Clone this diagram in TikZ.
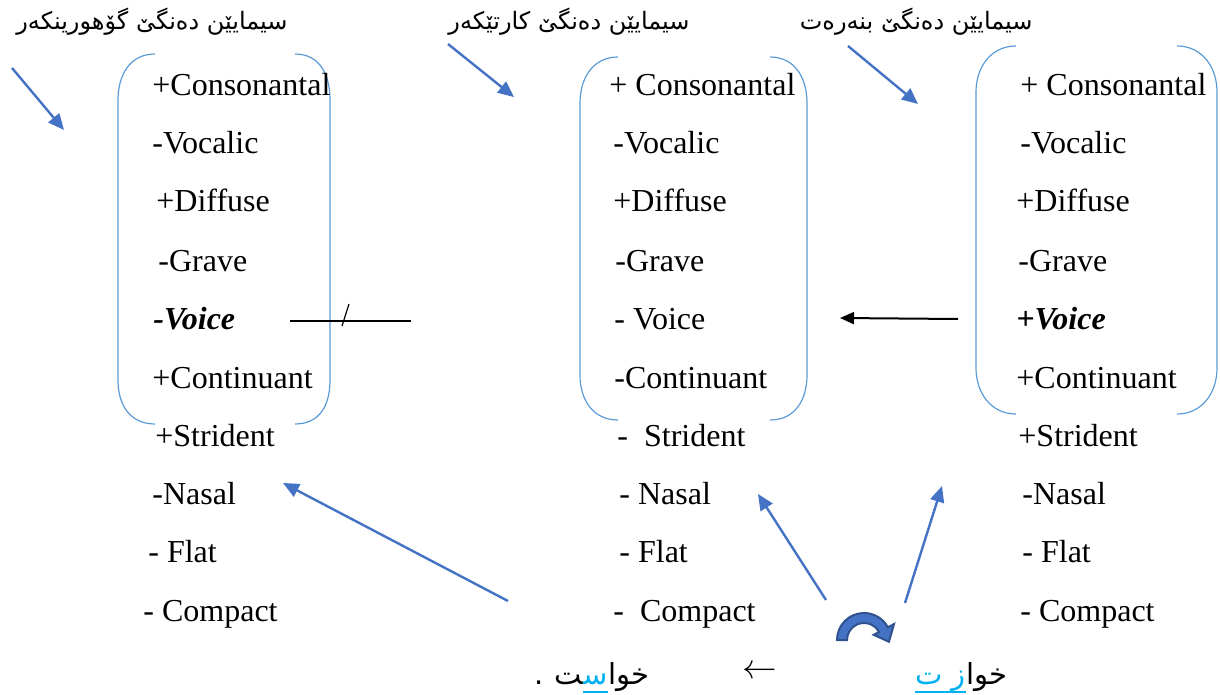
\documentclass[tikz,border=0pt]{standalone}
\usepackage{fontspec}
\setmainfont{Liberation Serif}
\newfontfamily\arabicfont[Script=Arabic]{DejaVu Sans}
\TeXXeTstate=1
\usetikzlibrary{arrows.meta}
\definecolor{brk}{HTML}{5B9BD5}
\definecolor{arr}{HTML}{4472C4}
\definecolor{arrdark}{HTML}{2F528F}
\definecolor{hl}{HTML}{00B0F0}
\newcommand\kzwj{\char"200D}
\begin{document}
\begin{tikzpicture}[x=0.5pt,y=-0.5pt,
  feat/.style={anchor=base west, inner sep=0pt, font=\fontsize{16}{19}\selectfont},
  bfeat/.style={feat, font=\fontsize{16}{19}\selectfont\bfseries\itshape},
  head/.style={anchor=east, inner sep=0pt, font=\fontsize{12}{14}\selectfont\arabicfont},
  ar/.style={anchor=base east, inner sep=0pt, font=\fontsize{14.5}{17}\selectfont\arabicfont},
  bracket/.style={draw=brk, line width=0.6pt},
  blarrow/.style={draw=arr, line width=1.2pt, -{Triangle[length=8pt,width=7pt]}},
  bkarrow/.style={draw=black, line width=1pt, -{Triangle[length=7pt,width=6pt]}}]
\useasboundingbox (0,0) rectangle (1220,695);
% headers
\node[head] (h1) at (288,22) {\beginR سیمایێن دەنگێ گۆهورینکەر\endR};
\node[head] (h2) at (690,22) {\beginR سیمایێن دەنگێ کارتێکەر\endR};
\node[head] (h3) at (1033,22) {\beginR سیمایێن دەنگێ بنەرەت\endR};
% brackets
\draw[bracket] (155,54) .. controls (130,54) and (118,75) .. (118,100) -- (118,380) .. controls (118,405) and (130,424) .. (155,424);
\draw[bracket] (295,54) .. controls (320,54) and (330,75) .. (330,100) -- (330,380) .. controls (330,405) and (320,424) .. (295,424);
\draw[bracket] (618,57) .. controls (593,57) and (580,78) .. (580,103) -- (580,375) .. controls (580,400) and (593,420) .. (618,420);
\draw[bracket] (770,57) .. controls (795,57) and (807,78) .. (807,103) -- (807,375) .. controls (807,400) and (795,420) .. (770,420);
\draw[bracket] (1016,46) .. controls (991,46) and (976,67) .. (976,92) -- (976,368) .. controls (976,393) and (991,414) .. (1016,414);
\draw[bracket] (1177,46) .. controls (1202,46) and (1217,67) .. (1217,92) -- (1217,368) .. controls (1217,393) and (1202,414) .. (1177,414);
% group 1
\node[feat] (g1a) at (152,96) {+Consonantal};
\node[feat] (g1b) at (152,154) {-Vocalic};
\node[feat] (g1c) at (156,212) {+Diffuse};
\node[feat] (g1d) at (158,271) {-Grave};
\node[bfeat] (g1e) at (153,329) {-Voice};
\node[feat] (g1f) at (152,388) {+Continuant};
\node[feat] (g1g) at (155,446) {+Strident};
\node[feat] (g1h) at (152,504) {-Nasal};
\node[feat] (g1i) at (148,562) {- Flat};
\node[feat] (g1j) at (143,621) {- Compact};
% group 2
\node[feat] (g2a) at (609,96) {+ Consonantal};
\node[feat] (g2b) at (613,154) {-Vocalic};
\node[feat] (g2c) at (613,212) {+Diffuse};
\node[feat] (g2d) at (615,271) {-Grave};
\node[feat] (g2e) at (614,329) {- Voice};
\node[feat] (g2f) at (614,388) {-Continuant};
\node[feat] (g2g) at (617,446) {-\ \ Strident};
\node[feat] (g2h) at (619,504) {- Nasal};
\node[feat] (g2i) at (619,562) {- Flat};
\node[feat] (g2j) at (613,621) {-\ \ Compact};
% group 3
\node[feat] (g3a) at (1020,96) {+ Consonantal};
\node[feat] (g3b) at (1020,154) {-Vocalic};
\node[feat] (g3c) at (1016,212) {+Diffuse};
\node[feat] (g3d) at (1018,271) {-Grave};
\node[bfeat] (g3e) at (1016,329) {+Voice};
\node[feat] (g3f) at (1016,388) {+Continuant};
\node[feat] (g3g) at (1018,446) {+Strident};
\node[feat] (g3h) at (1022,504) {-Nasal};
\node[feat] (g3i) at (1022,562) {- Flat};
\node[feat] (g3j) at (1020,621) {- Compact};
% top arrows
\coordinate (t1s) at (12,68); \coordinate (t1e) at (64,130);
\coordinate (t2s) at (448,44); \coordinate (t2e) at (514,97);
\coordinate (t3s) at (848,46); \coordinate (t3e) at (918,104);
\draw[blarrow] (t1s) -- (t1e);
\draw[blarrow] (t2s) -- (t2e);
\draw[blarrow] (t3s) -- (t3e);
% bottom arrows
\coordinate (b1s) at (508,601); \coordinate (b1e) at (283,483);
\coordinate (b2s) at (826,600); \coordinate (b2e) at (758,494);
\coordinate (b3s) at (905,603); \coordinate (b3e) at (942,486);
\draw[blarrow] (b1s) -- (b1e);
\draw[blarrow] (b2s) -- (b2e);
\draw[blarrow] (b3s) -- (b3e);
% black arrow and blocked line
\coordinate (ks) at (958,319); \coordinate (ke) at (840,318);
\draw[bkarrow] (ks) -- (ke);
\coordinate (ls) at (290,321); \coordinate (le) at (411,321);
\draw[line width=1pt] (ls) -- (le);
\coordinate (ss) at (349,304); \coordinate (se) at (342,326);
\draw[line width=0.6pt] (ss) -- (se);
% curved arrow
\draw[fill=arr, draw=arrdark, line width=1pt, shift={(864,640)}]
  (180:27) arc[start angle=180, end angle=332, radius=27]
  -- (332:34) -- (4:25) -- (332:11) -- (332:17)
  arc[start angle=332, end angle=180, radius=17] -- cycle;
% bottom words
\node[ar] (w1) at (1008,684) {\beginR خوا\endR};
\node[ar, text=hl] (w2) at (w1.base west) {\beginR ز ت\endR};
\draw[hl, line width=0.8pt] ([yshift=-4pt]w2.base west) -- ([yshift=-4pt]w2.base east);
\node[anchor=center, inner sep=0pt, font=\fontsize{16}{19}\selectfont] (la) at (760,672) {$\leftarrow$};
\node[ar] (v1) at (650,684) {\beginR خوا\endR};
\node[ar, text=hl] (v2) at (v1.base west) {\beginR س\kzwj\endR};
\node[ar] (v3) at (v2.base west) {\beginR\kzwj ت\endR};
\draw[hl, line width=0.8pt] ([yshift=-4pt]v2.base west) -- ([yshift=-4pt]v2.base east);
\node[ar] (v4) at ([xshift=-5pt]v3.base west) {.};
\end{tikzpicture}
\end{document}
